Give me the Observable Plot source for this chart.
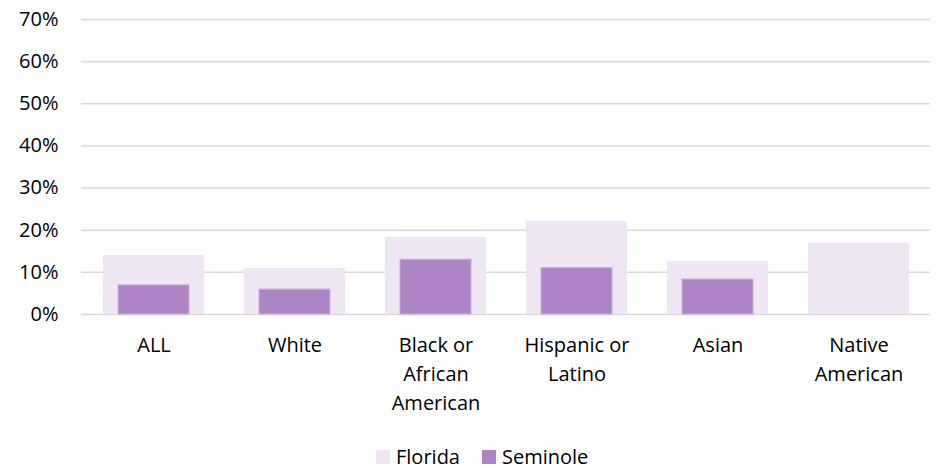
<!DOCTYPE html>
<html>
<head>
<meta charset="utf-8">
<script src="https://cdn.jsdelivr.net/npm/d3@7"></script>
<script src="https://cdn.jsdelivr.net/npm/@observablehq/plot@0.6"></script>
<style>
  html, body { margin: 0; padding: 0; background: #fff; }
  #wrap { position: relative; width: 936px; height: 469px; font-family: "Open Sans", sans-serif; }
  #wrap svg { display: block; }
  #legend { position: absolute; left: 376px; top: 447px; height: 20px; display: flex; align-items: center; font-size: 20px; line-height: 20px; color: #000; }
  .sw { width: 14px; height: 14px; display: inline-block; margin-right: 6px; }
  .item { display: flex; align-items: center; margin-right: 22px; }
</style>
</head>
<body>
<div id="wrap"></div>
<script>
const categories = ["ALL", "White", "Black or African American", "Hispanic or Latino", "Asian", "Native American"];
const tickLabels = ["ALL", "White", "Black or\nAfrican\nAmerican", "Hispanic or\nLatino", "Asian", "Native\nAmerican"];
const florida = [14.0, 10.9, 18.3, 22.1, 12.6, 16.9];
const seminole = [6.9, 5.9, 13.0, 11.0, 8.3, null];
const yTicks = [0, 10, 20, 30, 40, 50, 60, 70];
const seriesNames = ["Florida", "Seminole"];
const seriesColors = ["#EEE6F3", "#AD85C6"];

const floridaData = categories.map((c, i) => ({category: c, value: florida[i]}));
const seminoleData = categories.map((c, i) => ({category: c, value: seminole[i]})).filter(d => d.value != null);

const chart = Plot.plot({
  width: 936,
  height: 430,
  marginLeft: 81,
  marginRight: 6,
  marginTop: 19,
  marginBottom: 116,
  style: {fontFamily: "Open Sans", fontSize: "20px", color: "#000", background: "#fff"},
  x: {domain: categories, paddingInner: 0.287, paddingOuter: 0.1435, label: null},
  y: {domain: [0, 70], label: null},
  marks: [
    Plot.ruleY(yTicks, {stroke: "#d9d9d9", strokeWidth: 1.5}),
    Plot.barY(floridaData, {x: "category", y: "value", fill: seriesColors[0]}),
    Plot.barY(seminoleData, {x: "category", y: "value", fill: seriesColors[1], stroke: "#C9AFDB", strokeWidth: 1, insetLeft: 15, insetRight: 15}),
    Plot.axisY({ticks: yTicks, tickSize: 0, tickPadding: 23, tickFormat: d => d + "%", fontSize: 20, label: null}),
    Plot.axisX({tickSize: 0, tickPadding: 17, tickFormat: d => tickLabels[categories.indexOf(d)], lineHeight: 1.45, fontSize: 20, label: null})
  ]
});
const wrap = document.getElementById("wrap");
wrap.appendChild(chart);

const legend = document.createElement("div");
legend.id = "legend";
seriesNames.forEach((name, i) => {
  const item = document.createElement("div");
  item.className = "item";
  const sw = document.createElement("span");
  sw.className = "sw";
  sw.style.background = seriesColors[i];
  item.appendChild(sw);
  item.appendChild(document.createTextNode(name));
  legend.appendChild(item);
});
wrap.appendChild(legend);
</script>
</body>
</html>
